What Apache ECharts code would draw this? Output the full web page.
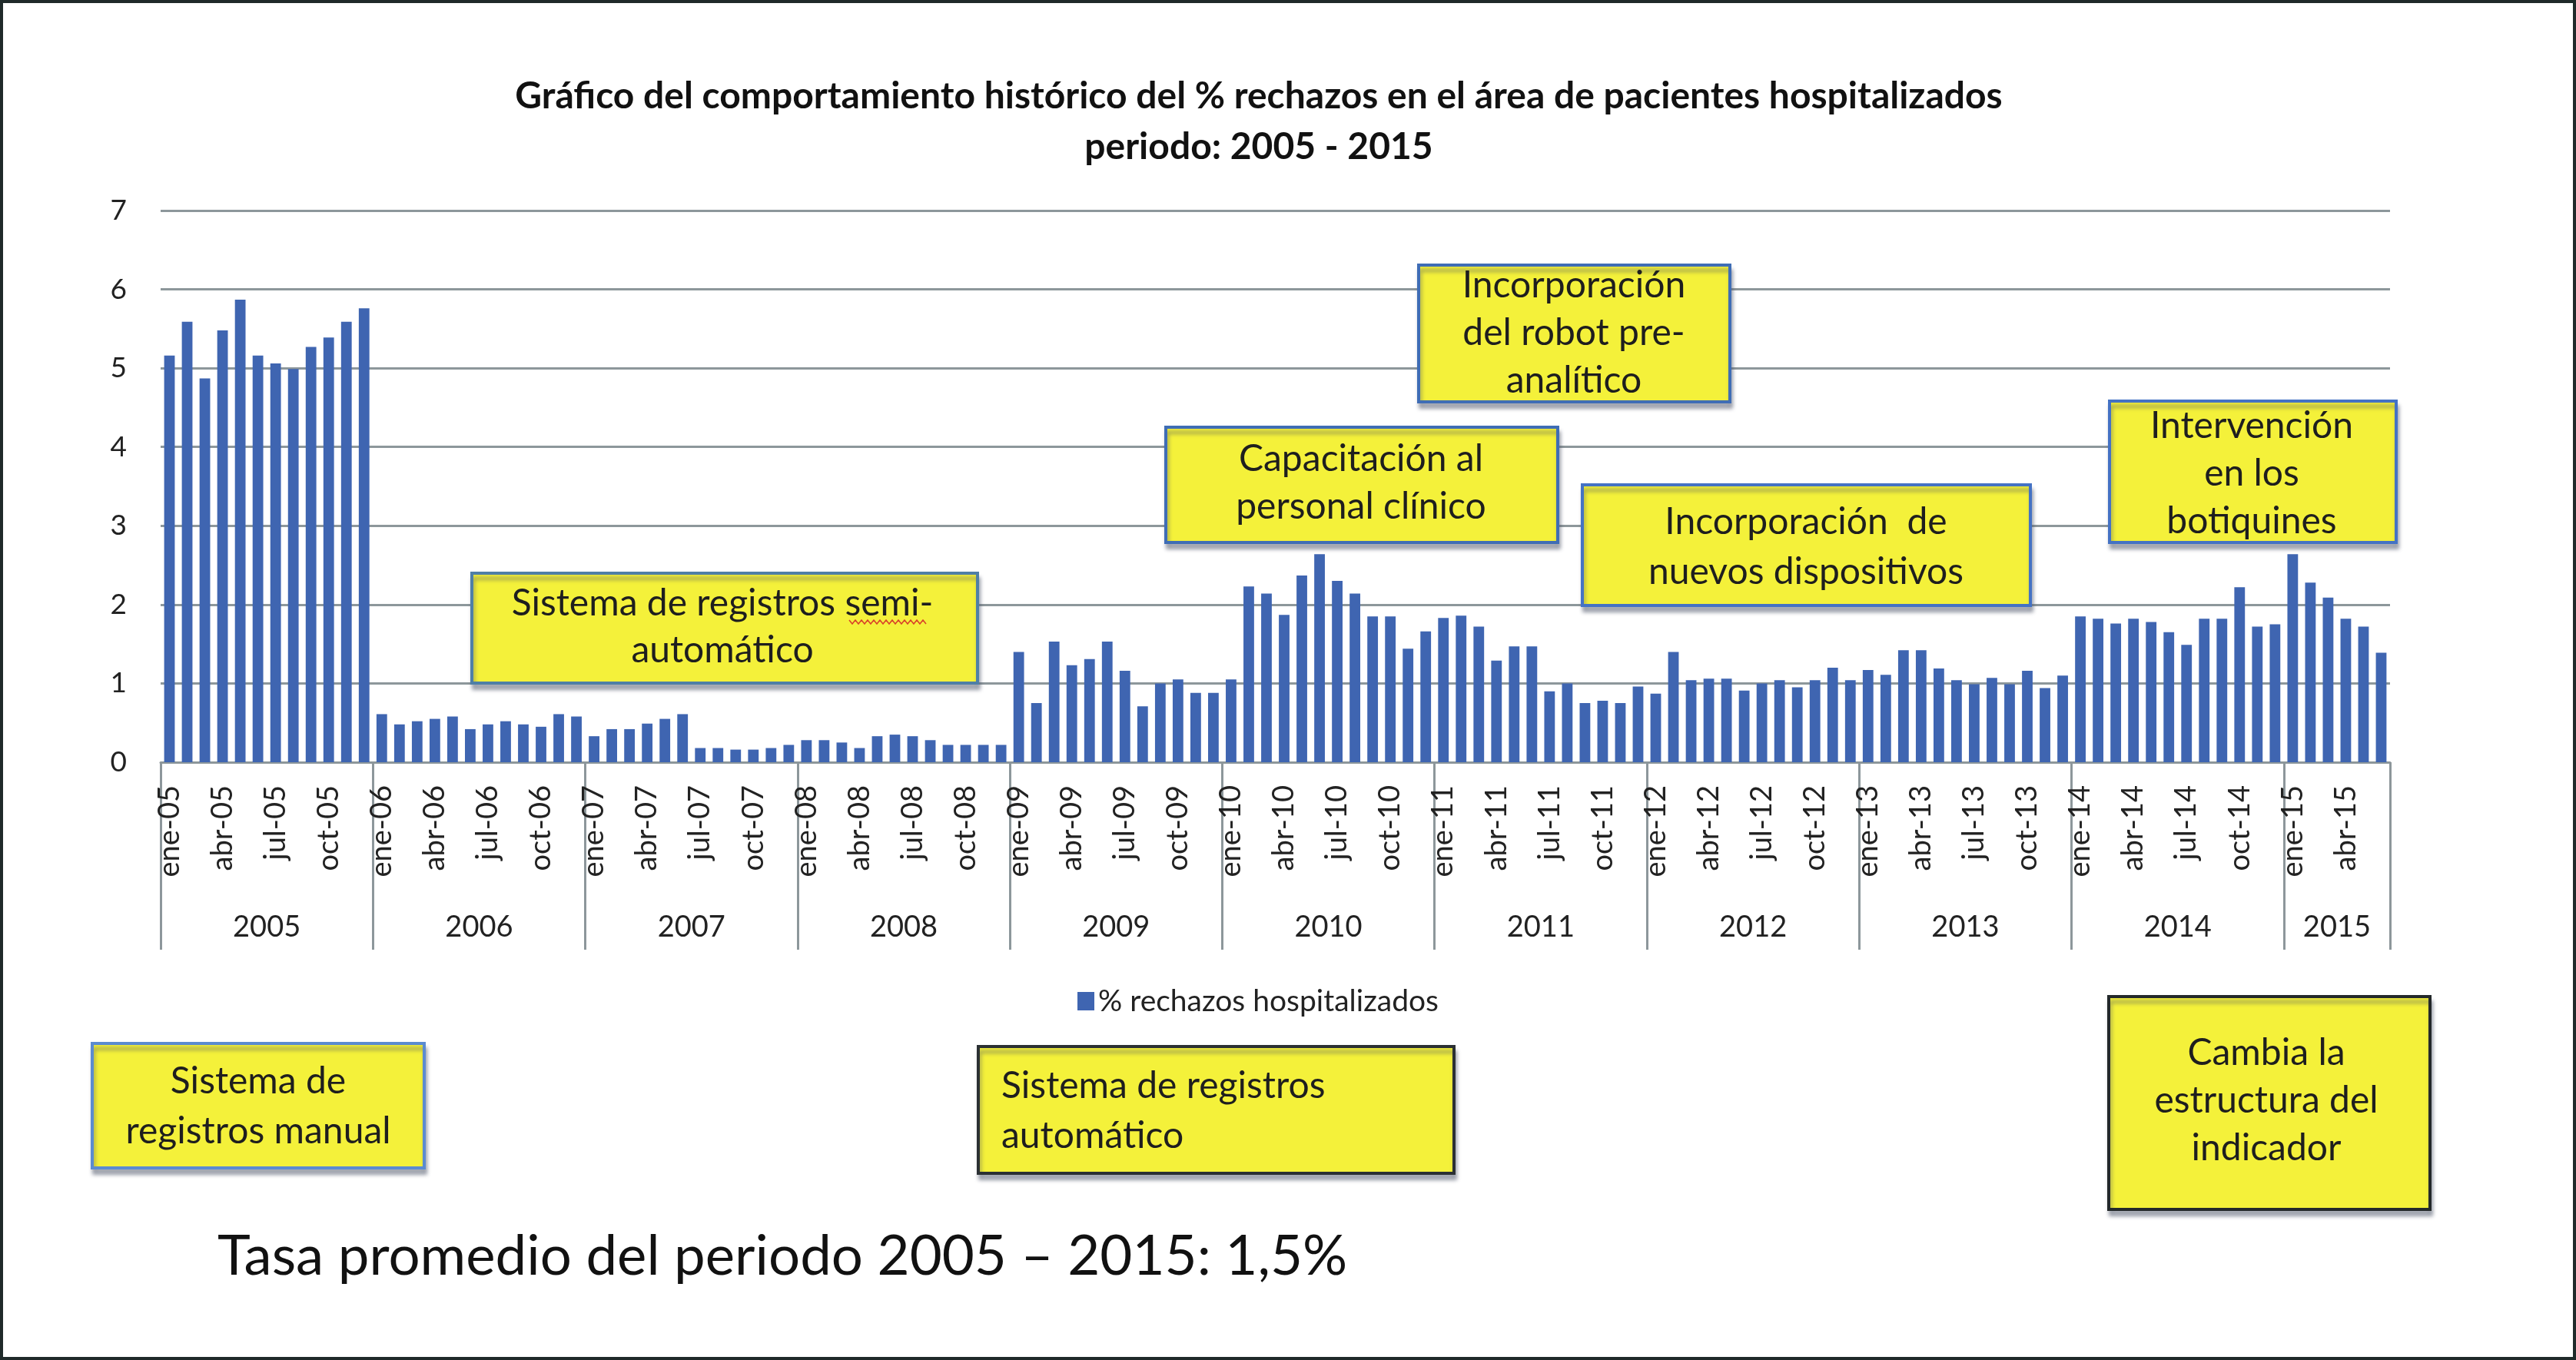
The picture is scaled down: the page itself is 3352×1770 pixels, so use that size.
<!DOCTYPE html>
<html>
<head>
<meta charset="utf-8">
<script src="https://cdn.jsdelivr.net/npm/echarts@6/dist/echarts.min.js"></script>
<style>
html,body{margin:0;padding:0;background:#fff;}
#c{width:3352px;height:1770px;}
</style>
</head>
<body>
<div id="c"></div>
<script>
// ---------- DATA ----------
const years = ['2005','2006','2007','2008','2009','2010','2011','2012','2013','2014','2015'];
const monthNames = ['ene','feb','mar','abr','may','jun','jul','ago','sep','oct','nov','dic'];
const values2005 = [5.16, 5.59, 4.87, 5.48, 5.87, 5.16, 5.06, 4.99, 5.27, 5.39, 5.59, 5.76];
const values2006 = [0.61, 0.48, 0.52, 0.55, 0.58, 0.42, 0.48, 0.52, 0.48, 0.45, 0.61, 0.58];
const values2007 = [0.33, 0.42, 0.42, 0.49, 0.55, 0.61, 0.18, 0.18, 0.16, 0.16, 0.18, 0.22];
const values2008 = [0.28, 0.28, 0.25, 0.18, 0.33, 0.35, 0.33, 0.28, 0.22, 0.22, 0.22, 0.22];
const values2009 = [1.40, 0.75, 1.53, 1.23, 1.31, 1.53, 1.16, 0.71, 1.00, 1.05, 0.88, 0.88];
const values2010 = [1.05, 2.23, 2.14, 1.87, 2.37, 2.64, 2.30, 2.14, 1.85, 1.85, 1.44, 1.66];
const values2011 = [1.83, 1.86, 1.72, 1.29, 1.47, 1.47, 0.90, 1.00, 0.75, 0.78, 0.75, 0.96];
const values2012 = [0.87, 1.40, 1.04, 1.06, 1.06, 0.91, 1.00, 1.04, 0.95, 1.04, 1.20, 1.04];
const values2013 = [1.17, 1.11, 1.42, 1.42, 1.19, 1.04, 0.99, 1.07, 0.99, 1.16, 0.94, 1.10];
const values2014 = [1.85, 1.82, 1.76, 1.82, 1.78, 1.65, 1.49, 1.82, 1.82, 2.22, 1.72, 1.75];
const values2015 = [2.64, 2.28, 2.09, 1.82, 1.72, 1.39];
const yMin = 0, yMax = 7, yStep = 1;
const seriesName = '% rechazos hospitalizados';
const titleLine1 = 'Gráfico del comportamiento histórico del % rechazos en el área de pacientes hospitalizados';
const titleLine2 = 'periodo: 2005 - 2015';
const avgNote = 'Tasa promedio del periodo 2005 – 2015: 1,5%';
const boxTexts = [
  'Sistema de\nregistros manual',
  'Sistema de registros semi-\nautomático',
  'Sistema de registros\nautomático',
  'Incorporación\ndel robot pre-\nanalítico',
  'Capacitación al\npersonal clínico',
  'Incorporación  de\nnuevos dispositivos',
  'Intervención\nen los\nbotiquines',
  'Cambia la\nestructura del\nindicador'
];

// ---------- BUILD ----------
const valuesByYear = [values2005, values2006, values2007, values2008, values2009, values2010,
                      values2011, values2012, values2013, values2014, values2015];
const categories = [], yearCat = [], barData = [];
const yearStarts = new Set();
let acc = 0;
valuesByYear.forEach((vals, yi) => {
  yearStarts.add(acc);
  vals.forEach((v, mi) => {
    categories.push(monthNames[mi] + '-' + years[yi].slice(2));
    yearCat.push(mi === Math.floor(vals.length / 2) ? years[yi] : '');
    barData.push(v);
  });
  acc += vals.length;
});

const W = 3352, H = 1770;
const gridLeft = 209, gridRight = 242, gridTop = 274, gridBottom = 778;
const band = (W - gridLeft - gridRight) / categories.length;
const FONT = 'Lato';
const gray = '#8d979b';

function fitSize(text, weight, target) {
  const ctx = document.createElement('canvas').getContext('2d');
  ctx.font = weight + ' 100px ' + FONT;
  return 100 * target / ctx.measureText(text).width;
}
const titleSize = Math.min(48, fitSize(titleLine1, 'bold', 2003));
const noteSize = Math.min(74, fitSize(avgNote, 'normal', 1470));

// annotation boxes layout: [x0, y0, x1, y1, textX, textY, align, borderColor, lineHeight]
const boxLayout = [
  [120, 1358, 552, 1520, 336, 1440, 'center', '#5b8bd0', 65],
  [614, 746, 1272, 889, 940, 816, 'center', '#4f7fa6', 61],
  [1273, 1362, 1892, 1527, 1303, 1446, 'left', '#2b3033', 65],
  [1846, 345, 2251, 523, 2048, 434, 'center', '#3f6db5', 62],
  [1517, 556, 2027, 706, 1771, 629, 'center', '#3f6db5', 62],
  [2059, 631, 2642, 788, 2350, 712, 'center', '#4472c4', 65],
  [2745, 522, 3118, 706, 2930, 617, 'center', '#4472c4', 62],
  [2744, 1297, 3162, 1574, 2949, 1433, 'center', '#23282a', 62]
];

const graphics = [];
boxLayout.forEach((b, i) => {
  graphics.push({
    type: 'rect', z: 100,
    shape: {x: b[0], y: b[1], width: b[2] - b[0], height: b[3] - b[1]},
    style: {fill: '#f4f13a', stroke: b[7], lineWidth: 4,
            shadowBlur: 5, shadowOffsetX: 2, shadowOffsetY: 7, shadowColor: 'rgba(70,80,100,0.45)'}
  });
  graphics.push({
    type: 'text', z: 101, x: b[4], y: b[5],
    style: {text: boxTexts[i], fill: '#1e1e1e', font: '48px ' + FONT,
            align: b[6], verticalAlign: 'middle', lineHeight: b[8]}
  });
});
// spell-check wavy underline under "semi"
(function(){
  const pts = [];
  for (let x = 1105, k = 0; x <= 1208; x += 4, k++) pts.push([x, 809 + (k % 2 ? 3 : -2)]);
  graphics.push({type: 'polyline', z: 102, shape: {points: pts}, style: {stroke: '#d9402a', lineWidth: 1.5, fill: null}});
})();
// titles
graphics.push({type: 'text', x: 1638, y: 126, style: {text: titleLine1, font: 'bold ' + titleSize.toFixed(1) + 'px ' + FONT, fill: '#111', align: 'center', verticalAlign: 'middle'}});
graphics.push({type: 'text', x: 1638, y: 192, style: {text: titleLine2, font: 'bold ' + titleSize.toFixed(1) + 'px ' + FONT, fill: '#111', align: 'center', verticalAlign: 'middle'}});
// bottom note
graphics.push({type: 'text', x: 283, y: 1636, style: {text: avgNote, font: noteSize.toFixed(1) + 'px ' + FONT, fill: '#111', align: 'left', verticalAlign: 'middle'}});
// outer frame
graphics.push({type: 'rect', z: 200, shape: {x: 2, y: 2, width: W - 4, height: H - 4}, style: {fill: null, stroke: '#1f2a2a', lineWidth: 4}});

const chart = echarts.init(document.getElementById('c'), null, {renderer: 'canvas'});
chart.setOption({
  animation: false,
  backgroundColor: '#ffffff',
  textStyle: {fontFamily: FONT},
  grid: {left: gridLeft, right: gridRight, top: gridTop, bottom: gridBottom, containLabel: false},
  legend: {
    left: 1397, top: 1276, itemWidth: 22, itemHeight: 24, itemGap: 10,
    icon: 'rect',
    data: [seriesName],
    textStyle: {fontFamily: FONT, fontSize: 39, color: '#222', lineHeight: 44}
  },
  xAxis: [
    {
      type: 'category', data: categories, boundaryGap: true,
      axisLine: {show: true, lineStyle: {color: gray, width: 3}},
      axisTick: {show: true, length: 244, interval: (i) => yearStarts.has(i), lineStyle: {color: gray, width: 3}},
      axisLabel: {interval: 2, rotate: 90, margin: 30, fontFamily: FONT, fontSize: 38, color: '#222'},
      splitLine: {show: false}
    },
    {
      type: 'category', data: yearCat, boundaryGap: true, position: 'bottom',
      axisLine: {show: false}, axisTick: {show: false},
      axisLabel: {interval: 0, margin: 215, verticalAlign: 'middle', padding: [0, band, 0, 0],
                  fontFamily: FONT, fontSize: 38, color: '#222'},
      splitLine: {show: false}
    }
  ],
  yAxis: {
    type: 'value', min: yMin, max: yMax, interval: yStep,
    axisLine: {show: false}, axisTick: {show: false},
    axisLabel: {margin: 44, fontFamily: FONT, fontSize: 37, color: '#222'},
    splitLine: {show: true, lineStyle: {color: gray, width: 3}}
  },
  series: [{
    name: seriesName, type: 'bar', data: barData, xAxisIndex: 0,
    barCategoryGap: '40%',
    itemStyle: {color: '#3f65b1'}
  }],
  graphic: {elements: graphics}
});
</script>
</body>
</html>
